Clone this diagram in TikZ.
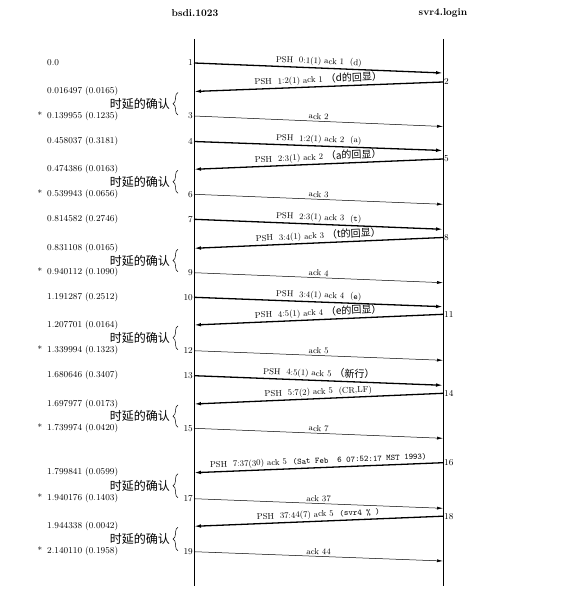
\documentclass[tikz,border=0pt]{standalone}
\usepackage{fontspec}
\newfontfamily\cjk{Noto Sans CJK SC}
\usetikzlibrary{arrows.meta,calc,decorations.pathreplacing}
\tikzset{
  host/.style={font=\fontsize{10}{12}\selectfont\bfseries, inner sep=1pt},
  life/.style={line width=0.7pt},
  psh/.style={-{Latex[length=7pt,width=3.6pt]}, line width=1.3pt},
  ack/.style={-{Latex[length=6pt,width=3pt]}, line width=0.5pt},
  msg/.style={font=\fontsize{8.5}{10}\selectfont, above, sloped, midway, inner sep=1.5pt},
  num/.style={font=\fontsize{9}{10}\selectfont, inner sep=1pt},
  stamp/.style={font=\fontsize{9}{10}\selectfont, anchor=west, inner sep=0pt},
  dack/.style={font=\cjk\fontsize{12}{13}\selectfont, anchor=east, inner sep=0pt},
  dbrace/.style={decorate, decoration={brace, amplitude=5pt}, line width=0.5pt},
}
\newcommand{\tstar}{\llap{*\hspace{5pt}}}
\newcommand{\zh}[1]{{\cjk\fontsize{10}{11}\selectfont #1}}

\begin{document}
\begin{tikzpicture}[x=1pt,y=-1pt]
  \useasboundingbox (0,0) rectangle (579,601);
  \node[host] (bsdi) at (195,13) {bsdi.1023};
  \node[host] (svr) at (443,13) {svr4.login};
  \coordinate (Ltop) at (194,39);
  \coordinate (Lbot) at (194,586);
  \coordinate (Rtop) at (443,39);
  \coordinate (Rbot) at (443,586);
  \draw[life] (Ltop) -- (Lbot);
  \draw[life] (Rtop) -- (Rbot);
  \coordinate (sx) at (47,0);

  \foreach \n/\ly/\ry in {1/63/73, 2/91.5/82, 3/116/126.5, 4/141.5/150.5, 5/169.3/159,
      6/194.3/204.3, 7/219.3/229.3, 8/248.3/237.5, 9/272.7/282.7, 10/297.3/306.7,
      11/325/314.3, 12/350.7/360.3, 13/375.7/385.3, 14/404/393.3, 15/428.3/438.3,
      16/472.7/462.7, 17/498.7/508.3, 18/526.3/516.2, 19/551.7/561}
    {\coordinate (L\n) at (194,\ly);
     \coordinate (R\n) at (443,\ry);}

  \draw[psh] (L1) -- (R1) node[msg] {PSH\ \ 0:1(1) ack 1\ \ (d)};
  \draw[psh] (R2) -- (L2) node[msg] {PSH\ \ 1:2(1) ack 1 \zh{（d的回显）}};
  \draw[ack] (L3) -- (R3) node[msg] {ack 2};
  \draw[psh] (L4) -- (R4) node[msg] {PSH\ \ 1:2(1) ack 2\ \ (a)};
  \draw[psh] (R5) -- (L5) node[msg] {PSH\ \ 2:3(1) ack 2 \zh{（a的回显）}};
  \draw[ack] (L6) -- (R6) node[msg] {ack 3};
  \draw[psh] (L7) -- (R7) node[msg] {PSH\ \ 2:3(1) ack 3\ \ (\texttt{t})};
  \draw[psh] (R8) -- (L8) node[msg] {PSH\ \ 3:4(1) ack 3 \zh{（t的回显）}};
  \draw[ack] (L9) -- (R9) node[msg] {ack 4};
  \draw[psh] (L10) -- (R10) node[msg] {PSH\ \ 3:4(1) ack 4\ \ (\texttt{e})};
  \draw[psh] (R11) -- (L11) node[msg] {PSH\ \ 4:5(1) ack 4 \zh{（e的回显）}};
  \draw[ack] (L12) -- (R12) node[msg] {ack 5};
  \draw[psh] (L13) -- (R13) node[msg] {PSH\ \ 4:5(1) ack 5 \zh{（新行）}};
  \draw[psh] (R14) -- (L14) node[msg] {PSH\ \ 5:7(2) ack 5\ \ (CR,LF)};
  \draw[ack] (L15) -- (R15) node[msg] {ack 7};
  \draw[psh] (R16) -- (L16) node[msg] {PSH\ \ 7:37(30) ack 5\ \ \texttt{(Sat Feb\ \ 6 07:52:17 MST 1993)}};
  \draw[ack] (L17) -- (R17) node[msg] {ack 37};
  \draw[psh] (R18) -- (L18) node[msg] {PSH\ \ 37:44(7) ack 5\ \ \texttt{(svr4 \% )}};
  \draw[ack] (L19) -- (R19) node[msg] {ack 44};

  \foreach \n in {1,3,4,6,7,9,10,12,13,15,17,19}
    {\node[num, anchor=east] (n\n) at (L\n) {\n};}
  \foreach \n in {2,5,8,11,14,16,18}
    {\node[num, anchor=west] (n\n) at (R\n) {\n};}

  \node[stamp] (t1) at (sx |- L1) {0.0};
  \node[stamp] (t2) at (sx |- L2) {0.016497 (0.0165)};
  \node[stamp] (t3) at (sx |- L3) {\tstar 0.139955 (0.1235)};
  \node[stamp] (t4) at (sx |- L4) {0.458037 (0.3181)};
  \node[stamp] (t5) at (sx |- L5) {0.474386 (0.0163)};
  \node[stamp] (t6) at (sx |- L6) {\tstar 0.539943 (0.0656)};
  \node[stamp] (t7) at (sx |- L7) {0.814582 (0.2746)};
  \node[stamp] (t8) at (sx |- L8) {0.831108 (0.0165)};
  \node[stamp] (t9) at (sx |- L9) {\tstar 0.940112 (0.1090)};
  \node[stamp] (t10) at (sx |- L10) {1.191287 (0.2512)};
  \node[stamp] (t11) at (sx |- L11) {1.207701 (0.0164)};
  \node[stamp] (t12) at (sx |- L12) {\tstar 1.339994 (0.1323)};
  \node[stamp] (t13) at (sx |- L13) {1.680646 (0.3407)};
  \node[stamp] (t14) at (sx |- L14) {1.697977 (0.0173)};
  \node[stamp] (t15) at (sx |- L15) {\tstar 1.739974 (0.0420)};
  \node[stamp] (t16) at (sx |- L16) {1.799841 (0.0599)};
  \node[stamp] (t17) at (sx |- L17) {\tstar 1.940176 (0.1403)};
  \node[stamp] (t18) at (sx |- L18) {1.944338 (0.0042)};
  \node[stamp] (t19) at (sx |- L19) {\tstar 2.140110 (0.1958)};

  \foreach \a/\b in {2/3, 5/6, 8/9, 11/12, 14/15, 16/17, 18/19}
    {\draw[dbrace] ($(L\b)+(-16,-1)$) -- ($(L\a)+(-16,1)$);
     \node[dack] (d\a) at ($(L\a)!0.5!(L\b)+(-24,0)$) {时延的确认};}
\end{tikzpicture}
\end{document}
